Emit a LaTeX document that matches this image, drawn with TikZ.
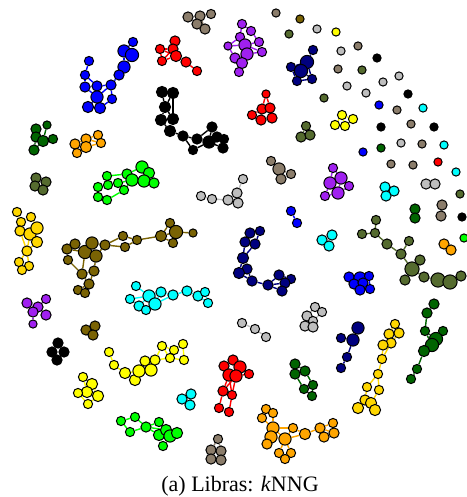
\documentclass[tikz,border=0pt]{standalone}
\usepackage{fontspec}
\setmainfont{Liberation Serif}
\usetikzlibrary{backgrounds}
\definecolor{cblue}{HTML}{0000FF}
\definecolor{cnavy}{HTML}{00007F}
\definecolor{cred}{HTML}{FF0000}
\definecolor{cpurple}{HTML}{A020F0}
\definecolor{ctaupe}{HTML}{8B7D6B}
\definecolor{clgray}{HTML}{BEBEBE}
\definecolor{cdolive}{HTML}{556B2F}
\definecolor{cobrown}{HTML}{7A6304}
\definecolor{cdgreen}{HTML}{006400}
\definecolor{cyellow}{HTML}{FFFF00}
\definecolor{cgold}{HTML}{FFD700}
\definecolor{corange}{HTML}{FFA500}
\definecolor{cgreen}{HTML}{00FF00}
\definecolor{ccyan}{HTML}{00FFFF}
\tikzset{
  nd/.style={circle, draw=black, line width=1pt, inner sep=0pt, minimum size=#1+1.2},
  ed/.style={line width=1.4pt},
  captext/.style={font=\fontsize{22}{24}\selectfont, inner sep=0pt}
}
\newcommand{\cl}[4]{%
  \foreach \x/\y/\s [count=\i] in {#3} \node[nd=\s, fill=#2] (#1\i) at (\x,\y) {};
  \begin{scope}[on background layer]
  \foreach \a/\b in {#4} \draw[ed, draw=#2] (#1\a) -- (#1\b);
  \end{scope}
}
\newcommand{\iso}[4]{\node[nd=7, fill=#2] (#1) at (#3,#4) {};}
\begin{document}
\begin{tikzpicture}[x=1pt, y=-1pt]
\useasboundingbox (0,0) rectangle (466,497);
% top-left blue
\cl{bl}{cblue}{133/42/8, 124/51/11, 132/55/12, 124/67/11, 119/75/9, 89/61/8, 85/75/8, 85/87/9, 97/86/9, 111/85/9, 97/97/11, 112/99/8, 88/107/10, 100/108/10}{1/2,2/3,2/4,3/4,4/5,5/10,6/7,7/8,7/9,8/9,9/10,9/11,10/11,10/12,11/13,11/14,14/12,8/11}
\cl{taa}{ctaupe}{188/17/9, 200/16/9, 211/14/8, 197/24/9, 205/29/9}{1/4,1/2,2/3,2/4,4/5,2/5}
\cl{rea}{cred}{160/49/8, 175/41/9, 173/49/9, 176/56/10, 162/61/8, 186/62/9, 197/71/8}{1/3,2/3,3/4,1/5,5/4,4/6,6/7,1/4,3/5}
\cl{pua}{cpurple}{228/46/7, 242/24/8, 251/31/8, 240/37/8, 259/42/8, 245/45/11, 262/52/8, 247/54/11, 235/58/9, 242/63/10, 239/72/8}{2/3,2/4,3/5,4/6,5/6,6/7,6/8,7/8,8/9,8/10,9/10,10/11,4/1,1/9,1/6,4/8}
\cl{bka}{black}{162/92/10, 173/93/10, 165/107/10, 161/120/10, 173/119/10, 170/131/10, 183/136/9, 197/139/9, 212/127/9, 209/142/11, 217/137/9, 224/139/8, 223/148/9, 193/150/8}{1/2,1/3,2/3,2/5,3/4,3/5,4/6,5/6,6/7,7/8,7/14,8/10,14/10,9/10,9/11,10/11,11/12,10/13,12/13,8/9}
\cl{dga}{cdgreen}{36/129/9, 47/125/7, 36/137/9, 43/141/10, 53/139/8, 34/150/9}{1/3,2/4,3/4,4/5,3/6,4/6,1/4}
\cl{ora}{corange}{75/144/9, 86/139/9, 98/135/8, 101/143/8, 86/147/10, 77/153/8}{1/2,2/3,3/4,2/4,2/5,1/5,5/6,1/6,5/4}
\cl{nva}{cnavy}{313/50/8, 307/62/12, 291/67/8, 301/71/12, 312/79/8, 297/81/8}{1/2,2/3,2/4,3/4,4/5,4/6,3/6,6/5,2/5}
\cl{reb}{cred}{266/94/7, 262/109/9, 270/108/9, 252/115/8, 261/120/9, 272/118/9}{1/2,1/3,2/3,2/4,2/5,3/6,5/6,4/5}
\cl{ola}{cdolive}{306/126/8, 301/137/9, 310/135/9}{1/2,1/3,2/3}
\cl{yea}{cyellow}{342/115/8, 353/119/8, 335/125/8, 345/126/8}{1/2,1/3,1/4,3/4}
% isolated points
\iso{i1}{ctaupe}{276}{13}
\iso{i2}{cobrown}{300}{19}
\iso{i3}{cdolive}{289}{34}
\iso{i4}{clgray}{317}{29}
\iso{i5}{cyellow}{336}{32}
\iso{i6}{clgray}{341}{51}
\iso{i7}{ctaupe}{358}{46}
\iso{i8}{black}{377}{58}
\iso{i9}{ctaupe}{338}{69}
\iso{i10}{cdolive}{362}{70}
\iso{i11}{clgray}{399}{76}
\iso{i12}{clgray}{383}{82}
\iso{i13}{clgray}{347}{86}
\iso{i14}{clgray}{366}{93}
\iso{i15}{black}{408}{94}
\iso{i16}{cdolive}{324}{98}
\iso{i17}{cblue}{379}{105}
\iso{i18}{ctaupe}{397}{110}
\iso{i19}{ccyan}{423}{108}
\iso{i20}{black}{381}{127}
\iso{i21}{ctaupe}{411}{124}
\iso{i22}{black}{434}{127}
\iso{i23}{clgray}{401}{143}
\iso{i24}{ctaupe}{422}{144}
\iso{i25}{ccyan}{444}{145}
\iso{i26}{cblue}{363}{152}
\iso{i27}{cdgreen}{381}{148}
\iso{i28}{ctaupe}{391}{164}
\iso{i29}{ctaupe}{413}{165}
\iso{i30}{cred}{438}{162}
\iso{i31}{ccyan}{456}{172}
\iso{i32}{cdolive}{460}{194}
\iso{i33}{black}{462}{217}
\iso{i34}{cgreen}{464}{238}
% pairs
\cl{pa}{clgray}{426/184/9, 435/184/9}{1/2}
\cl{pb}{ctaupe}{442/205/9, 441/216/9}{1/2}
\cl{pc}{cdgreen}{415/209/9, 415/218/9}{1/2}
\cl{pd}{corange}{444/244/9, 451/250/9}{1/2}
\cl{pe}{cblue}{291/211/8, 297/223/8}{1/2}
% middle / right
\cl{cya}{ccyan}{385/187/9, 394/191/9, 386/196/9}{1/2,1/3,2/3}
\cl{pub}{cpurple}{333/168/8, 341/178/11, 330/183/11, 349/186/8, 338/193/11, 325/196/8}{1/2,1/3,2/3,2/4,3/5,2/5,4/5,5/6,3/6}
\cl{tab}{ctaupe}{271/161/8, 279/169/11, 291/174/8, 281/179/9}{1/2,2/3,2/4,3/4}
\cl{lga}{clgray}{201/196/8, 212/199/8, 228/200/9, 243/179/8, 237/193/9, 238/203/9}{1/2,2/3,4/5,5/6}
\cl{cyb}{ccyan}{322/240/9, 332/235/9, 329/246/9}{1/2,1/3,2/3}
\cl{nvb}{cnavy}{250/233/9, 260/231/8, 245/242/9, 255/244/9, 243/258/10, 247/269/9, 239/273/10, 252/281/9, 268/285/9, 279/275/9, 291/279/8, 285/283/9, 282/291/9}{1/2,1/3,2/4,3/4,3/5,4/5,5/6,5/7,6/7,6/8,7/8,8/9,9/10,9/12,10/11,10/12,11/12,12/13,9/13}
\cl{blb}{cblue}{349/277/9, 360/278/11, 369/276/8, 354/284/9, 363/283/9, 360/290/9, 370/289/8}{1/2,2/3,1/4,2/5,4/5,5/6,5/7,3/7,4/6}
\cl{doa}{cdolive}{376/220/8, 362/234/8, 375/233/8, 387/244/9, 409/241/8, 401/254/9, 420/260/9, 412/269/13, 405/280/9, 424/277/9, 438/280/13, 450/282/13, 461/276/9}{1/3,2/3,3/4,4/6,5/6,6/8,7/8,8/9,8/10,10/11,11/12,12/13}
\cl{dgb}{cdgreen}{434/304/9, 427/313/9, 425/331/8, 443/331/8, 436/339/12, 432/345/12, 424/351/10, 417/369/8, 411/379/8}{1/2,2/3,3/5,4/5,5/6,6/7,3/6,7/8,8/9}
\cl{goa}{cgold}{395/324/8, 389/334/9, 399/333/9, 391/343/9, 383/345/9, 382/359/8, 378/374/8, 367/387/8, 379/390/8, 365/400/9, 371/403/10, 358/408/10, 375/410/10}{1/2,1/3,2/3,2/4,3/4,4/5,4/6,5/6,6/7,7/8,7/9,8/10,9/11,10/11,10/12,11/13,10/13}
\cl{nvc}{cnavy}{358/328/11, 341/338/8, 353/340/11, 347/357/8, 341/368/8}{1/3,2/3,3/4,4/5}
\cl{lgb}{clgray}{315/307/8, 322/312/8, 307/316/9, 313/321/8, 305/326/9, 313/327/9}{1/2,1/3,2/4,3/4,3/5,4/6,5/6}
\cl{lgc}{clgray}{242/323/8, 255/329/8, 266/337/8}{1/2,2/3}
\cl{dgc}{cdgreen}{295/364/9, 305/371/9, 295/374/9, 313/385/8, 304/389/8, 312/396/8}{1/2,1/3,2/4,3/5,4/5,5/6,4/6}
\cl{orb}{corange}{266/409/8, 273/413/8, 262/418/8, 273/428/11, 293/428/8, 271/437/11, 285/439/11, 305/434/10, 267/444/9, 320/428/9, 333/423/8, 334/433/9, 324/437/9, 279/453/8, 291/453/8, 285/459/8}{1/2,1/3,2/4,3/4,4/5,4/6,4/7,5/7,6/7,7/8,6/9,8/10,10/11,10/12,11/12,12/13,10/13,7/14,7/15,14/16,15/16,5/8}
% left
\cl{dob}{cdolive}{36/178/9, 46/182/9, 35/186/9, 43/190/9}{1/2,1/3,2/4,3/4}
\cl{gra}{cgreen}{107/176/8, 127/174/9, 142/167/11, 149/173/10, 132/180/11, 144/181/11, 154/183/9, 98/187/8, 108/185/8, 118/183/8, 124/190/8, 98/197/8, 107/200/8}{1/9,8/9,9/10,10/11,10/5,8/12,12/13,13/11,11/5,5/2,2/3,3/4,4/6,5/6,6/7,1/2}
\cl{gob}{cgold}{17/212/8, 21/222/8, 31/217/8, 20/231/9, 30/234/11, 37/228/11, 37/242/10, 27/251/9, 19/262/8, 29/266/8, 22/270/8}{1/2,2/3,2/4,3/6,4/5,5/6,5/7,7/8,5/8,8/9,8/10,9/11,10/11,4/8}
\cl{oba}{cobrown}{67/249/9, 75/244/9, 68/260/8, 85/252/12, 92/243/11, 96/256/11, 105/245/9, 123/236/8, 125/247/8, 137/240/8, 161/236/10, 170/223/8, 176/232/12, 173/243/8, 193/233/7, 94/271/9, 82/274/9, 89/284/9, 78/290/8, 85/293/8}{1/2,1/3,1/4,2/4,4/5,4/6,5/6,5/7,6/7,7/8,7/9,8/10,9/10,10/11,11/12,11/13,11/14,13/15,12/13,6/16,4/17,16/17,17/18,16/18,18/19,18/20,19/20,3/17}
\cl{cyc}{ccyan}{136/286/8, 130/299/8, 139/306/9, 146/310/8, 149/296/11, 155/304/11, 161/292/9, 173/295/9, 187/291/9, 198/296/9, 205/292/8, 208/303/8}{1/5,2/3,3/4,3/5,4/6,5/6,5/7,6/7,7/8,6/8,8/9,9/10,10/11,10/12,11/12,2/5}
\cl{puc}{cpurple}{27/303/9, 38/307/9, 46/299/8, 33/312/9, 46/315/9, 33/324/7}{1/2,2/3,1/4,2/4,2/5,4/6}
\cl{obb}{cobrown}{86/330/9, 95/326/9, 93/335/9}{1/2,1/3,2/3}
\cl{bkb}{black}{58/343/9, 52/352/9, 64/352/9, 57/360/9}{1/2,1/3,2/4,3/4}
\cl{yeb}{cyellow}{109/352/8, 114/365/8, 125/373/10, 135/380/10, 139/371/11, 145/361/9, 151/370/11, 155/360/9, 162/346/8, 174/350/8, 183/344/8, 170/358/8, 184/360/8}{1/2,2/3,3/5,4/5,5/6,5/7,6/8,7/8,8/9,8/12,9/10,10/11,10/12,12/13,11/13,9/12}
\cl{yec}{cyellow}{83/377/8, 92/384/10, 87/392/10, 78/393/8, 98/396/10, 88/404/8}{1/2,1/3,2/3,3/4,3/5,4/6,5/6,2/5}
\cl{cyd}{ccyan}{182/399/9, 191/394/9, 190/405/9}{1/2,1/3,2/3}
\cl{grb}{cgreen}{121/421/8, 135/417/8, 130/432/8, 146/427/9, 159/422/8, 159/435/10, 166/430/10, 170/436/11, 177/433/10, 163/446/8}{1/2,1/3,2/4,3/4,4/5,4/6,4/7,5/7,6/7,7/8,6/10,8/9,6/8}
\cl{rec}{cred}{224/366/9, 233/360/9, 240/367/11, 229/375/11, 236/376/11, 249/374/8, 223/391/9, 232/395/8, 219/408/8, 229/412/8}{1/2,2/3,1/4,3/5,4/5,3/6,5/6,4/7,5/8,7/8,7/9,8/10,9/10,4/8,5/7}
\cl{tac}{ctaupe}{218/439/8, 211/450/9, 221/451/9, 211/459/9, 221/460/9}{1/2,1/3,2/3,2/4,3/5,4/5}
% caption
\node[captext, anchor=base] (caption) at (240,491) {(a) Libras: \textit{k}NNG};
\end{tikzpicture}
\end{document}
